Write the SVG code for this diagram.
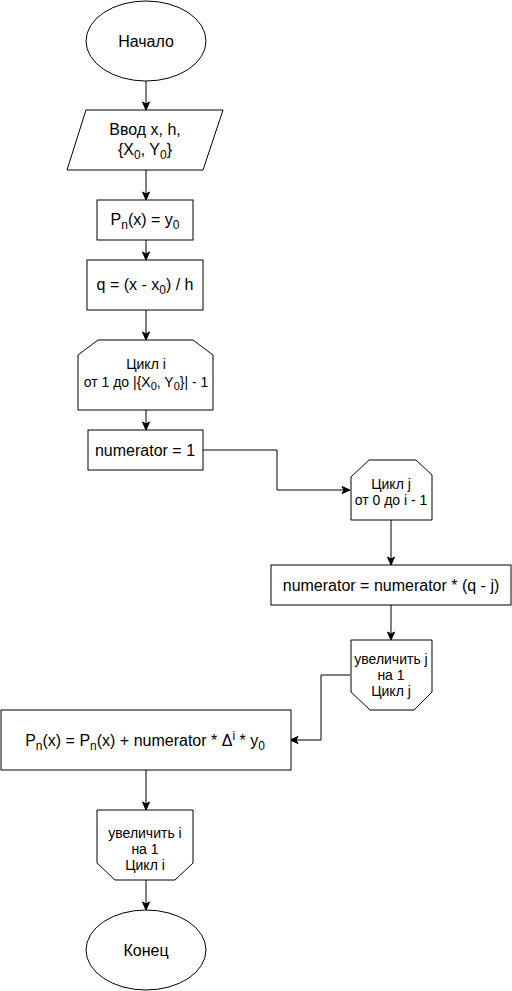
<svg xmlns="http://www.w3.org/2000/svg" width="512" height="991" viewBox="0 0 512 991">
<style>
.n{fill:#fff;stroke:#000;stroke-width:1}
.c{fill:none;stroke:#000;stroke-width:1}
text{font-family:"Liberation Sans",Arial,Helvetica,sans-serif;fill:#000;text-anchor:middle}
.l{font-size:16px}
.s{font-size:14px}
</style>
<defs>
<marker id="a" markerWidth="10" markerHeight="10" refX="8" refY="5" orient="auto" markerUnits="userSpaceOnUse">
<path d="M1,1.5 L9,5 L1,8.5 L3,5 Z" fill="#000" stroke="#000" stroke-width="1"/>
</marker>
</defs>
<g id="connectors">
<path class="c" d="M146,81 V109" marker-end="url(#a)"/>
<path class="c" d="M146,170 V199" marker-end="url(#a)"/>
<path class="c" d="M146,240 V259" marker-end="url(#a)"/>
<path class="c" d="M146,310 V339" marker-end="url(#a)"/>
<path class="c" d="M146,410 V429" marker-end="url(#a)"/>
<path class="c" d="M203,450 H277 V490 H349" marker-end="url(#a)"/>
<path class="c" d="M391,520 V564" marker-end="url(#a)"/>
<path class="c" d="M391,605 V639" marker-end="url(#a)"/>
<path class="c" d="M350,675 H321 V740 H291" marker-end="url(#a)"/>
<path class="c" d="M146,770 V809" marker-end="url(#a)"/>
<path class="c" d="M146,880 V909" marker-end="url(#a)"/>
</g>
<g id="start">
<ellipse class="n" cx="146" cy="41" rx="60" ry="40"/>
<text class="l" x="146" y="47">Начало</text>
</g>
<g id="input">
<polygon class="n" points="86,110 223,110 203,170 67,170"/>
<text class="l" x="145" y="135">Ввод x, h,</text>
<text class="l" x="145" y="155">{X<tspan font-size="12" dy="4">0</tspan><tspan dy="-4">, Y</tspan><tspan font-size="12" dy="4">0</tspan><tspan dy="-4">}</tspan></text>
</g>
<g id="pn-init">
<rect class="n" x="97" y="200" width="96" height="40"/>
<text class="l" x="145" y="225">P<tspan font-size="12" dy="4">n</tspan><tspan dy="-4">(x) = y</tspan><tspan font-size="12" dy="4">0</tspan></text>
</g>
<g id="q">
<rect class="n" x="87" y="260" width="116" height="50"/>
<text class="l" x="145" y="290">q = (x - x<tspan font-size="12" dy="4">0</tspan><tspan dy="-4">) / h</tspan></text>
</g>
<g id="loop-i">
<polygon class="n" points="98,340 193,340 213,355 213,410 78,410 78,355"/>
<text class="s" x="146" y="369">Цикл i</text>
<text class="s" x="146" y="387">от 1 до |{X<tspan font-size="11" dy="3">0</tspan><tspan dy="-3">, Y</tspan><tspan font-size="11" dy="3">0</tspan><tspan dy="-3">}| - 1</tspan></text>
</g>
<g id="numerator-init">
<rect class="n" x="88" y="430" width="115" height="40"/>
<text class="l" x="145" y="456">numerator = 1</text>
</g>
<g id="loop-j">
<polygon class="n" points="369,460 416,460 432,475 432,520 351,520 351,477"/>
<text class="s" x="391" y="489">Цикл j</text>
<text class="s" x="391" y="505">от 0 до i - 1</text>
</g>
<g id="numerator-mul">
<rect class="n" x="271" y="565" width="240" height="40"/>
<text class="l" x="391" y="591">numerator = numerator * (q - j)</text>
</g>
<g id="loop-j-end">
<polygon class="n" points="351,640 432,640 432,692 414,710 370,710 351,692"/>
<text class="s" x="391" y="664">увеличить j</text>
<text class="s" x="391" y="680">на 1</text>
<text class="s" x="391" y="696">Цикл j</text>
</g>
<g id="pn-update">
<rect class="n" x="1" y="710" width="290" height="60"/>
<text class="l" x="145" y="746">P<tspan font-size="12" dy="4">n</tspan><tspan dy="-4">(x) = P</tspan><tspan font-size="12" dy="4">n</tspan><tspan dy="-4">(x) + numerator * Δ</tspan><tspan font-size="12" dy="-6">i</tspan><tspan dy="6"> * y</tspan><tspan font-size="12" dy="4">0</tspan></text>
</g>
<g id="loop-i-end">
<polygon class="n" points="97,810 193,810 193,863 175,880 115,880 97,863"/>
<text class="s" x="145" y="838">увеличить i</text>
<text class="s" x="145" y="854">на 1</text>
<text class="s" x="145" y="870">Цикл i</text>
</g>
<g id="end">
<ellipse class="n" cx="146" cy="950" rx="60" ry="40"/>
<text class="l" x="146" y="956">Конец</text>
</g>
</svg>
